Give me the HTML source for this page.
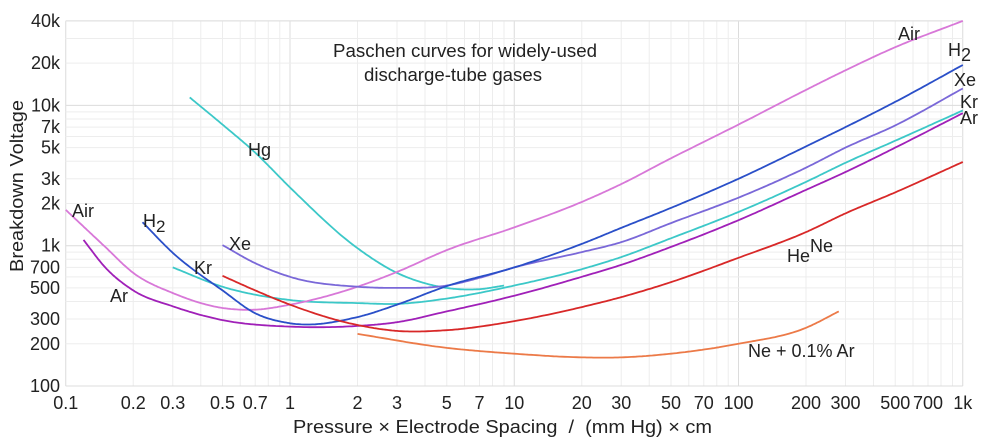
<!DOCTYPE html>
<html><head><meta charset="utf-8">
<style>
html,body{margin:0;padding:0;background:#fff;}
svg{display:block;font-family:"Liberation Sans",Arial,sans-serif;}
</style></head>
<body>
<svg id="chart" width="987" height="438" viewBox="0 0 987 438" xmlns="http://www.w3.org/2000/svg">
<g id="grid"></g>
<g id="ticks" font-size="18" fill="#222"></g>
<g id="series"></g>
<text x="0" y="0" font-size="18" fill="#222" text-anchor="middle" textLength="172" lengthAdjust="spacingAndGlyphs" transform="translate(23,186) rotate(-90)">Breakdown Voltage</text>
<text x="293" y="433" font-size="18" fill="#222" textLength="419" lengthAdjust="spacingAndGlyphs" xml:space="preserve">Pressure × Electrode Spacing  /  (mm Hg) × cm</text>
<text font-size="18" fill="#222"><tspan x="333" y="57" textLength="264" lengthAdjust="spacingAndGlyphs">Paschen curves for widely-used</tspan><tspan x="364" y="81" textLength="178" lengthAdjust="spacingAndGlyphs">discharge-tube gases</tspan></text>
<g font-size="18" fill="#222">
<text x="72" y="217">Air</text>
<text x="143" y="227">H<tspan dy="5" font-size="17">2</tspan></text>
<text x="229" y="250">Xe</text>
<text x="194" y="274">Kr</text>
<text x="110" y="302">Ar</text>
<text x="248" y="156">Hg</text>
<text x="898" y="40">Air</text>
<text x="948" y="56">H<tspan dy="5" font-size="18">2</tspan></text>
<text x="954" y="86">Xe</text>
<text x="960" y="108">Kr</text>
<text x="960" y="124">Ar</text>
<text x="787" y="262">He<tspan dy="-10">Ne</tspan></text>
<text x="748" y="357">Ne + 0.1% Ar</text>
</g>
</svg>
<script>
const xTicks = [0.1,0.2,0.3,0.5,0.7,1,2,3,5,7,10,20,30,50,70,100,200,300,500,700,1000];
const xTickLabels = ["0.1","0.2","0.3","0.5","0.7","1","2","3","5","7","10","20","30","50","70","100","200","300","500","700","1k"];
const yTicks = [100,200,300,500,700,1000,2000,3000,5000,7000,10000,20000,40000];
const yTickLabels = ["100","200","300","500","700","1k","2k","3k","5k","7k","10k","20k","40k"];

const airX = [0.1,0.15,0.2,0.3,0.5,0.7,1,2,3,5,10,20,30,50,100,200,300,500,1000];
const airV = [1800,980,640,460,360,350,380,510,650,930,1350,2050,2750,4200,7300,12900,17800,26000,40000];
const h2X = [0.22,0.3,0.5,0.7,1,2,3,5,10,20,30,50,100,200,300,500,1000];
const h2V = [1470,890,480,330,280,310,380,515,700,1030,1340,1860,3000,5100,7000,10600,19400];
const xeX = [0.5,0.7,1,2,3,5,7,10,20,30,50,100,200,300,500,1000];
const xeV = [1010,750,600,510,500,520,590,700,900,1060,1450,2200,3600,5000,7200,13200];
const krX = [0.3,0.5,1,2,3,5,10,20,30,50,100,200,300,500,1000];
const krV = [700,510,410,390,385,420,520,680,830,1130,1740,2850,3900,5600,9200];
const arX = [0.12,0.15,0.2,0.3,0.5,1,2,3,5,10,20,30,50,100,200,300,500,1000];
const arV = [1100,700,480,370,295,265,268,285,340,440,600,730,980,1520,2500,3350,5000,8800];
const neX = [0.5,0.7,1,2,3,5,10,20,30,50,100,200,300,500,1000];
const neV = [610,480,380,272,247,250,290,365,430,550,820,1250,1700,2400,3950];
const neArX = [2,5,10,20,30,50,100,200,280];
const neArV = [235,187,170,160,160,170,200,260,340];
const hgX = [0.357,0.5,0.7,1,2,3,4,5,7,9];
const hgV = [11400,7300,4600,2600,960,640,540,500,490,520];

const NS="http://www.w3.org/2000/svg";
const X0=290, XD=224.25, Y0=386, YD=140.3;
function xs(v){return X0+XD*Math.log10(v);}
function ys(v){return Y0-YD*(Math.log10(v)-2);}
function mk(tag,attrs,parent){const e=document.createElementNS(NS,tag);for(const k in attrs)e.setAttribute(k,attrs[k]);parent.appendChild(e);return e;}

const grid=document.getElementById('grid');
for(let d=-1; d<3; d++){for(let m=1;m<10;m++){const v=m*Math.pow(10,d);
 const l=mk('line',{x1:xs(v),x2:xs(v),y1:ys(40000),y2:ys(100),stroke:m===1?'#dcdcdc':'#ededed','stroke-width':1},grid);
 
 }}
{const l=mk('line',{x1:xs(1000),x2:xs(1000),y1:ys(40000),y2:ys(100),stroke:'#dcdcdc'},grid);
 
 }
for(let d=2; d<5; d++){for(let m=1;m<10;m++){const v=m*Math.pow(10,d); if(v>40000)break;
 const l=mk('line',{x1:xs(0.1),x2:xs(1000),y1:ys(v),y2:ys(v),stroke:m===1?'#dcdcdc':'#ededed','stroke-width':1},grid);
 
 }}
{const l=mk('line',{x1:xs(0.1),x2:xs(1000),y1:ys(40000),y2:ys(40000),stroke:'#dcdcdc'},grid);
 
 }

const ticks=document.getElementById('ticks');
xTicks.forEach((v,i)=>{const t=mk('text',{x:xs(v),y:409,'text-anchor':'middle'},ticks);t.textContent=xTickLabels[i];
 
 });
yTicks.forEach((v,i)=>{const t=mk('text',{x:60,y:ys(v)+6,'text-anchor':'end'},ticks);t.textContent=yTickLabels[i];
 
 });

const series=document.getElementById('series');
// cubic Hermite (finite-difference tangents) in log-log space
function curve(X,V,color,name){
 const lx=X.map(Math.log10), ly=V.map(Math.log10), n=lx.length;
 const m=new Array(n);
 m[0]=(ly[1]-ly[0])/(lx[1]-lx[0]);
 m[n-1]=(ly[n-1]-ly[n-2])/(lx[n-1]-lx[n-2]);
 for(let i=1;i<n-1;i++){
  const d0=(ly[i]-ly[i-1])/(lx[i]-lx[i-1]), d1=(ly[i+1]-ly[i])/(lx[i+1]-lx[i]);
  const h0=lx[i]-lx[i-1], h1=lx[i+1]-lx[i];
  m[i]=(d0*h1+d1*h0)/(h0+h1);
 }
 let d='';
 for(let i=0;i<n-1;i++){
  const h=lx[i+1]-lx[i], steps=24;
  for(let s=(i===0?0:1);s<=steps;s++){
   const t=s/steps, t2=t*t, t3=t2*t;
   const y=(2*t3-3*t2+1)*ly[i]+(t3-2*t2+t)*h*m[i]+(-2*t3+3*t2)*ly[i+1]+(t3-t2)*h*m[i+1];
   const x=lx[i]+t*h;
   const px=X0+XD*x, py=Y0-YD*(y-2);
   d+=(d?' L':'M')+px.toFixed(1)+','+py.toFixed(1);
  }
 }
 const p=mk('path',{d:d,fill:'none',stroke:color,'stroke-width':1.8,'stroke-linejoin':'round'},series);
 
 
}
curve(hgX,hgV,'#3cc8c8','hg-curve');
curve(krX,krV,'#3cc8c8','kr-curve');
curve(airX,airV,'#d878d8','air-curve');
curve(xeX,xeV,'#7a68d8','xe-curve');
curve(h2X,h2V,'#2a4fc8','h2-curve');
curve(arX,arV,'#a020b8','ar-curve');
curve(neX,neV,'#d82828','ne-curve');
curve(neArX,neArV,'#ec7a48','ne-ar-curve');
</script>
</body></html>
